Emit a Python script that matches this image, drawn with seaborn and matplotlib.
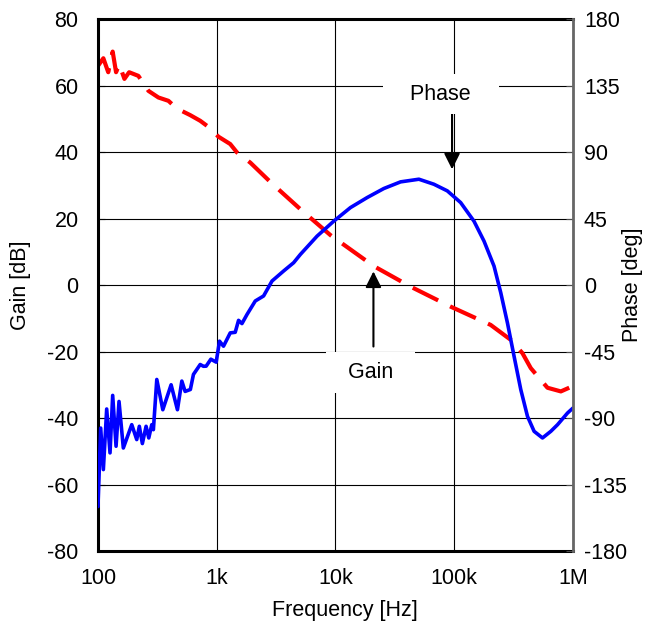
import matplotlib
matplotlib.use("Agg")
import matplotlib.pyplot as plt
import seaborn as sns
import pandas as pd

# Gain curve (red dashed), left axis [dB]
gain_freq = [100, 111, 122, 133, 142, 151, 167, 183, 219, 266, 323, 392, 461, 598,
             726, 827, 1036, 1300, 1480, 1920, 2830, 3550, 5070, 9080, 21000, 43000,
             93400, 203000, 300000, 376000, 442000, 611000, 792000, 1000000]
gain_db = [65.9, 68.2, 64.0, 70.2, 64.0, 66.4, 62.0, 64.0, 62.9, 58.4, 56.4, 55.4, 53.1, 51.1,
           49.4, 47.9, 44.6, 42.4, 39.9, 36.8, 31.0, 27.8, 22.8, 15.0, 5.7, -0.5,
           -6.5, -12.0, -16.5, -20.5, -25.0, -30.9, -32.0, -30.4]

# Phase curve (blue solid), right axis [deg]
phase_freq = [100, 105.4, 111, 118.4, 126.3, 133, 142, 150.4, 163.5, 192.5, 212.1, 223,
              236.5, 254.2, 267.8, 283.9, 292.9, 312.9, 351.6, 413, 467, 508.5, 542,
              600, 637, 726, 774, 815, 893, 990, 1056, 1141, 1300, 1432, 1528, 1632, 1798,
              2113, 2483, 2923, 3662, 4446, 5066, 7007, 9676, 13385, 18515, 25560, 35360,
              50470, 67520, 87600, 113400, 146900, 178500, 216700, 246900, 281200, 319600,
              363900, 414700, 471400, 554700, 651900, 743000, 901600, 1000000]
phase_deg = [-149.9, -96.8, -124.9, -83.9, -113.6, -74.7, -109.1, -78.8, -110.3, -94.5, -104.6, -95.6,
             -107.3, -95.6, -103.5, -94.5, -97.9, -63.9, -84.4, -67.5, -84.4, -65.0, -72.0,
             -70.7, -60.5, -53.8, -55.0, -54.9, -50.2, -52.2, -38.0, -41.4, -32.4, -32.0, -23.9, -26.1, -20.0,
             -10.8, -7.4, 2.7, 9.5, 15.1, 20.7, 33.1, 43.2, 52.4, 59.2, 65.3, 69.8,
             71.6, 68.2, 63.7, 55.8, 43.2, 29.7, 12.8, -5.2, -25.7, -48.2,
             -70.7, -88.9, -99.0, -103.5, -99.0, -94.5, -86.6, -83.3]

x_ticks = [100, 1000, 10000, 100000, 1000000]
x_labels = ["100", "1k", "10k", "100k", "1M"]
gain_ticks = [-80, -60, -40, -20, 0, 20, 40, 60, 80]
phase_ticks = [-180, -135, -90, -45, 0, 45, 90, 135, 180]

sns.set_style("white")
plt.rcParams["font.family"] = ["Liberation Sans", "DejaVu Sans"]
plt.rcParams["axes.unicode_minus"] = False
plt.rcParams["text.color"] = "black"
plt.rcParams["axes.labelcolor"] = "black"
plt.rcParams["xtick.color"] = "black"
plt.rcParams["ytick.color"] = "black"

gain_df = pd.DataFrame({"freq": gain_freq, "gain": gain_db})
phase_df = pd.DataFrame({"freq": phase_freq, "phase": phase_deg})

fs = 15.5

fig = plt.figure(figsize=(6.51, 6.28), dpi=100)
ax = fig.add_axes([0.1505, 0.1226, 0.7295, 0.8471])
ax2 = ax.twinx()

sns.lineplot(data=gain_df, x="freq", y="gain", ax=ax, color="#ff0000", lw=3,
             linestyle=(0, (6.8, 3.2)), sort=False)
sns.lineplot(data=phase_df, x="freq", y="phase", ax=ax2, color="#0000ff", lw=2.6, sort=False)

ax.set_xscale("log")
ax.set_xlim(100, 1e6)
ax.set_ylim(-80, 80)
ax2.set_ylim(-180, 180)
ax.set_xticks(x_ticks)
ax.set_xticklabels(x_labels)
ax.xaxis.set_minor_locator(matplotlib.ticker.NullLocator())
ax.set_yticks(gain_ticks)
ax2.set_yticks(phase_ticks)

ax.grid(True, which="major", color="black", lw=0.8)
ax2.grid(False)

ax.tick_params(axis="both", labelsize=fs, direction="in", length=5, color="black")
ax.tick_params(axis="y", pad=14)
ax.tick_params(axis="x", pad=12, length=0)
ax2.tick_params(axis="y", labelsize=fs, direction="in", length=5, pad=8, color="0.3")

for side in ["left", "bottom", "top"]:
    ax.spines[side].set_color("black")
    ax.spines[side].set_linewidth(2.2)
ax2.spines["right"].set_color("0.4")
ax2.spines["right"].set_linewidth(2.0)
for side in ["left", "bottom", "top"]:
    ax2.spines[side].set_visible(False)
ax.spines["right"].set_visible(False)

ax.set_xlabel("Frequency [Hz]", fontsize=fs)
ax.set_ylabel("Gain [dB]", fontsize=fs)
ax2.set_ylabel("Phase [deg]", fontsize=fs)
ax.xaxis.set_label_coords(0.52, -0.092)
ax.yaxis.set_label_coords(-0.14, 0.5)
ax2.yaxis.set_label_coords(1.103, 0.5)

box = dict(boxstyle="square,pad=0.45", fc="white", ec="none")
arrow = dict(arrowstyle="-|>", color="black", lw=1.5, mutation_scale=24, shrinkA=0, shrinkB=0)
ax2.annotate("", xy=(96000, 34.8 * 2.25), xytext=(96000, 52 * 2.25), arrowprops=arrow)
ax2.text(76900, 57.4 * 2.25, "   Phase   ", fontsize=fs, ha="center", va="center", bbox=box)
ax2.annotate("", xy=(20900, 4.1 * 2.25), xytext=(20900, -18.5 * 2.25), arrowprops=arrow)
ax2.text(19740, -26.3 * 2.25, "  Gain  ", fontsize=fs, ha="center", va="center", bbox=box)

fig.savefig("out.png", dpi=100)
